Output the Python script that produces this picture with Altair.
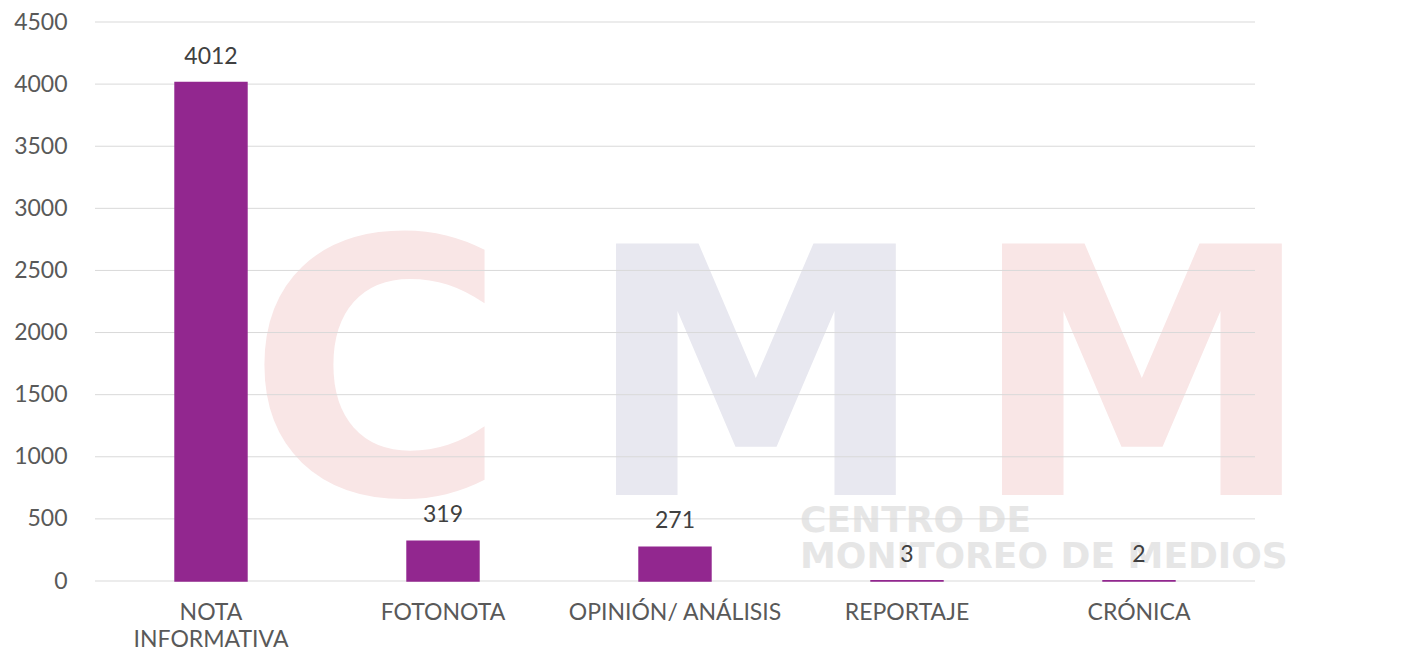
import altair as alt
import pandas as pd

categories = ["NOTA INFORMATIVA", "FOTONOTA", "OPINIÓN/ ANÁLISIS", "REPORTAJE", "CRÓNICA"]
values = [4012, 319, 271, 3, 2]
grid_values = [0, 500, 1000, 1500, 2000, 2500, 3000, 3500, 4000, 4500]

FONT = "Lato"
W, H = 1160, 559

df = pd.DataFrame({"cat": categories, "val": values})
gdf = pd.DataFrame({"g": grid_values})

xscale = alt.Scale(domain=categories, paddingInner=0.69, paddingOuter=0.345)
yscale = alt.Scale(domain=[0, 4500], nice=False)

def wm(text, x, y, size, color, align="center"):
    return alt.Chart(pd.DataFrame({"t": [text]})).mark_text(
        font="DejaVu Sans", fontWeight="bold", fontSize=size, color=color,
        align=align, baseline="alphabetic"
    ).encode(text="t:N", x=alt.value(x), y=alt.value(y))

watermark = [
    wm("C", 282, 472, 355, "#f9e6e6"),
    wm("M", 661, 473, 345, "#e8e8f0"),
    wm("M", 1047, 473, 345, "#f9e6e6"),
    wm("CENTRO DE", 705, 510, 36, "#e6e6e6", "left"),
    wm("MONITOREO DE MEDIOS", 705, 546, 36, "#e6e6e6", "left"),
]

grid = alt.Chart(gdf).mark_rule(color="#d9d9d9", strokeWidth=1).encode(
    y=alt.Y("g:Q", scale=yscale),
)

base = alt.Chart(df).encode(
    x=alt.X("cat:N", scale=xscale, sort=categories,
            axis=alt.Axis(title=None, labelAngle=0, ticks=False, domain=False,
                          labelFont=FONT, labelFontSize=23, labelColor="#595959",
                          labelPadding=20, labelLineHeight=27, labelLimit=400,
                          labelExpr="datum.value == 'NOTA INFORMATIVA' ? ['NOTA', 'INFORMATIVA'] : datum.value")),
    y=alt.Y("val:Q", scale=yscale,
            axis=alt.Axis(title=None, values=grid_values, grid=False, ticks=False, domain=False,
                          format="d",
                          labelFont=FONT, labelFontSize=23, labelColor="#595959",
                          labelPadding=28)),
)

bars = base.mark_bar(color="#92278F", stroke="#92278F", strokeWidth=1.5)
labels = base.mark_text(font=FONT, fontSize=23, color="#404040", baseline="bottom", dy=-14).encode(
    text="val:Q"
)

chart = alt.layer(*watermark, grid, bars, labels).properties(
    width=W, height=H,
    autosize=alt.AutoSizeParams(type="none"),
    padding={"left": 87, "top": 14, "right": 150, "bottom": 76},
).configure_view(stroke=None)

chart.save("out.html", embed_options={"renderer": "svg", "actions": False})
